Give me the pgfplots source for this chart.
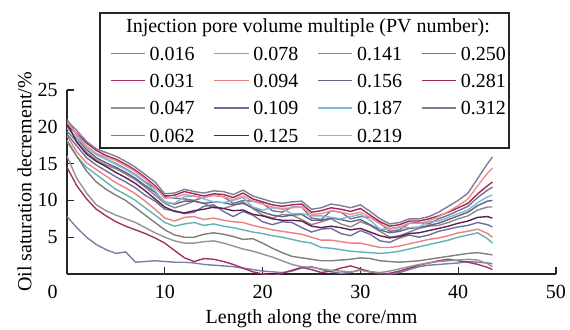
\documentclass[border=0pt]{standalone}
\usepackage{fontspec}
\setmainfont{Liberation Serif}
\usepackage{pgfplots}
\usepackage{pgfplotstable}
\pgfplotsset{compat=1.18}
\definecolor{cA}{HTML}{7C7CA8}
\definecolor{cB}{HTML}{A8306A}
\definecolor{cC}{HTML}{939393}
\definecolor{cD}{HTML}{7E7E7E}
\definecolor{cE}{HTML}{5FB3B8}
\definecolor{cF}{HTML}{EE8080}
\definecolor{cG}{HTML}{6E6E9E}
\definecolor{cH}{HTML}{5E1E4E}
\definecolor{cI}{HTML}{888888}
\definecolor{cJ}{HTML}{6E5E80}
\definecolor{cK}{HTML}{78BDE0}
\definecolor{cL}{HTML}{F09090}
\definecolor{cM}{HTML}{7E6E90}
\definecolor{cN}{HTML}{9E2858}
\definecolor{cO}{HTML}{7E7E98}
\pgfplotstableread{
x c1 c2 c3 c4 c5 c6 c7 c8 c9 c10 c11 c12 c13 c14 c15
0 7.8 14.5 16.0 18.0 18.2 18.8 19.0 20.5 19.4 20.0 19.8 20.6 21.0 20.2 20.8
1 6.3 12.0 13.0 16.0 16.0 16.6 17.4 17.9 18.0 18.4 18.5 19.0 18.9 19.1 19.5
2 5.0 10.2 11.0 14.0 14.5 15.1 15.8 16.3 16.5 16.9 17.2 17.4 17.3 17.8 18.0
3 4.0 8.8 9.4 12.5 13.5 14.2 14.8 15.3 15.5 15.8 16.2 16.4 16.3 16.8 17.0
4 3.3 7.9 8.6 11.5 12.5 13.3 14.0 14.6 14.8 15.1 15.6 15.9 15.6 16.1 16.5
5 2.8 7.1 8.0 10.7 11.5 12.4 13.2 13.8 14.3 14.5 14.9 15.4 15.0 15.6 16.0
6 3.0 6.5 7.5 10.0 10.8 11.7 12.5 13.1 13.6 13.8 14.2 14.7 14.3 14.9 15.3
7 1.6 6.0 7.0 9.0 10.0 10.9 11.7 12.3 12.8 13.0 13.4 13.9 13.5 14.1 14.5
8 1.7 5.5 6.3 8.0 9.0 9.9 10.7 11.3 11.8 12.0 12.4 12.9 12.5 13.1 13.5
9 1.8 4.9 5.6 7.0 8.0 8.8 9.9 10.2 10.7 11.1 11.3 11.8 11.7 12.0 12.5
10 1.7 4.2 5.0 6.0 7.0 7.6 8.8 9.1 9.6 9.8 9.7 10.3 10.5 10.6 10.9
11 1.6 3.2 4.5 5.3 6.5 7.2 8.6 8.5 9.0 9.5 9.6 10.4 10.3 10.7 11.0
12 1.6 2.2 4.2 5.0 6.8 7.7 8.2 8.3 9.4 9.9 10.5 10.8 10.2 11.2 11.5
13 1.5 1.7 4.2 5.0 7.0 7.8 8.4 8.6 9.9 9.9 10.6 10.6 10.0 10.9 11.2
14 1.3 2.1 4.4 5.4 6.6 7.4 9.2 8.8 9.6 9.6 10.2 10.4 10.4 10.6 11.0
15 1.2 2.0 4.5 5.6 6.8 7.6 9.4 9.1 9.0 9.8 9.8 10.7 10.7 10.9 11.3
16 1.1 1.7 4.2 5.4 6.5 7.3 8.5 8.9 8.9 9.7 9.7 10.5 10.5 10.8 11.2
17 1.0 1.3 3.8 5.1 6.3 7.1 7.8 8.6 9.3 9.4 10.0 10.1 9.6 10.4 10.8
18 0.8 0.8 3.4 4.7 6.0 7.0 8.5 8.7 9.8 9.6 10.4 10.6 10.0 11.0 11.4
19 0.6 0.3 3.1 4.8 5.7 6.6 8.0 8.1 8.9 9.0 9.1 9.9 9.9 10.2 10.6
20 0.4 0.0 2.7 4.2 5.5 6.3 7.1 7.9 8.0 8.4 8.7 9.5 9.6 9.8 10.2
21 0.3 -0.2 2.3 3.5 5.2 6.0 6.7 7.5 7.6 8.0 9.0 9.1 8.6 9.4 9.8
22 0.2 0.1 1.8 2.9 5.0 5.8 7.1 7.3 8.1 7.8 8.8 8.9 8.4 9.2 9.6
23 0.4 0.5 1.3 2.4 4.7 5.6 7.0 7.3 8.0 8.0 8.2 9.0 9.1 9.4 9.8
24 0.8 0.9 1.0 2.2 4.4 5.4 6.3 7.2 7.4 8.1 8.2 9.1 9.1 9.5 9.9
25 1.0 0.6 0.9 2.0 4.2 5.0 5.7 6.5 6.7 7.3 7.9 8.1 7.6 8.4 8.8
26 0.6 0.2 0.7 1.8 3.6 4.6 6.1 6.3 7.1 7.3 7.9 8.2 7.4 8.6 9.0
27 0.3 0.4 0.5 1.8 3.5 4.6 6.2 6.5 7.5 7.6 7.7 8.6 8.6 9.0 9.5
28 0.1 0.8 0.4 1.9 3.3 4.4 5.5 6.3 6.8 7.4 7.5 8.4 8.4 8.8 9.3
29 0.2 1.1 0.3 2.0 3.1 4.2 5.2 6.0 6.4 7.1 7.8 8.1 7.5 8.5 9.0
30 0.6 0.7 0.5 2.2 3.0 4.2 5.9 6.2 7.1 7.4 8.1 8.4 7.8 8.9 9.4
31 0.3 0.3 0.3 2.1 2.9 3.9 5.4 5.7 6.6 6.7 7.3 7.7 7.7 8.0 8.5
32 0.1 0.0 0.2 1.8 2.8 3.6 4.5 5.2 5.8 6.0 6.1 6.8 6.9 7.1 7.5
33 0.0 0.1 0.4 1.7 2.9 3.6 4.3 4.9 5.0 5.6 6.1 6.2 5.8 6.5 6.8
34 0.2 0.4 0.7 1.6 3.1 3.8 4.9 5.1 5.2 5.8 6.3 6.4 6.0 6.7 7.0
35 0.6 0.8 1.0 1.7 3.4 4.1 5.3 5.5 5.7 6.2 6.3 6.9 6.9 7.2 7.5
36 1.0 1.2 1.3 1.8 3.7 4.4 5.0 5.6 6.2 6.3 6.4 6.9 7.0 7.2 7.5
37 1.2 1.5 1.5 2.0 4.0 4.7 5.3 5.9 6.5 6.6 7.1 7.2 6.8 7.5 7.8
38 1.3 1.8 1.7 2.2 4.3 4.9 5.8 6.2 6.6 6.9 7.2 7.8 7.5 7.9 8.4
39 1.4 2.0 1.8 2.4 4.6 5.2 6.1 6.5 7.0 7.4 7.7 8.5 8.0 8.4 9.2
40 1.5 1.8 1.9 2.6 5.0 5.6 6.4 6.9 7.5 7.9 8.2 9.3 8.6 9.0 10.0
41 1.7 1.6 2.0 2.8 5.3 5.8 6.6 7.2 7.9 8.4 8.7 10.2 9.2 9.6 11.0
42 1.6 1.3 1.9 2.9 5.6 6.1 7.0 7.7 8.7 9.3 9.7 12.0 10.4 10.9 13.0
43 1.5 0.9 1.4 2.7 4.8 5.5 6.7 7.8 9.1 9.9 10.5 13.7 11.4 12.0 15.0
43.5 1.4 0.6 1.0 2.6 4.2 5.0 6.4 7.6 9.1 10.0 10.7 14.4 11.8 12.5 15.9
}\data
\begin{document}
\begin{tikzpicture}[font=\fontsize{10}{12}\selectfont]
\begin{axis}[
  scale only axis, width=244.5pt, height=92pt,
  xmin=0, xmax=50, ymin=0, ymax=25,
  axis x line*=bottom, axis y line*=left,
  x axis line style={-}, y axis line style={-},
  axis line style={line width=0.6pt, black!85},
  xtick={10,20,30,40,50}, ytick={5,10,15,20,25},
  tick align=inside, major tick length=3.5pt,
  tick style={line width=0.6pt, black!85},
  /pgf/number format/assume math mode=true,
  xticklabel style={inner sep=0pt, yshift=-5.5pt},
  yticklabel style={inner sep=0pt, xshift=-4.5pt},
  xlabel={Length along the core/mm},
  ylabel={Oil saturation decrement/\%},
  xlabel style={at={(axis description cs:0.5,-0.2663)}, anchor=base, inner sep=0pt},
  ylabel style={at={(axis description cs:-0.0716,0.5)}, anchor=south, inner sep=0pt},
  legend columns=4,
  legend cell align=left,
  legend style={draw=none, fill=none, inner sep=0pt, outer sep=0pt,
    at={(0.0879,1.237)}, anchor=north west, row sep=6.9pt, column sep=2pt,
    nodes={inner sep=0pt, text height=6.8pt, text depth=0pt},
    /tikz/every even column/.append style={column sep=9.6pt},
    font=\fontsize{10}{12}\selectfont},
  every axis plot/.append style={line width=0.7pt},
]
\addplot[cA] table[x=x,y=c1] {\data}; \addlegendentry{0.016}
\addplot[cE] table[x=x,y=c5] {\data}; \addlegendentry{0.078}
\addplot[cI] table[x=x,y=c9] {\data}; \addlegendentry{0.141}
\addplot[cM] table[x=x,y=c13] {\data}; \addlegendentry{0.250}
\addplot[cB] table[x=x,y=c2] {\data}; \addlegendentry{0.031}
\addplot[cF] table[x=x,y=c6] {\data}; \addlegendentry{0.094}
\addplot[cJ] table[x=x,y=c10] {\data}; \addlegendentry{0.156}
\addplot[cN] table[x=x,y=c14] {\data}; \addlegendentry{0.281}
\addplot[cC] table[x=x,y=c3] {\data}; \addlegendentry{0.047}
\addplot[cG] table[x=x,y=c7] {\data}; \addlegendentry{0.109}
\addplot[cK] table[x=x,y=c11] {\data}; \addlegendentry{0.187}
\addplot[cO] table[x=x,y=c15] {\data}; \addlegendentry{0.312}
\addplot[cD] table[x=x,y=c4] {\data}; \addlegendentry{0.062}
\addplot[cH] table[x=x,y=c8] {\data}; \addlegendentry{0.125}
\addplot[cL] table[x=x,y=c12] {\data}; \addlegendentry{0.219}
\end{axis}
\draw[line width=0.6pt, black!85] (16.5pt,63pt) rectangle (221pt,130.5pt);
\node[inner sep=0pt] at (120.5pt,123pt) {Injection pore volume multiple (PV number):};
\node[anchor=north east, inner sep=0pt] at (-4.5pt,-5.5pt) {0};
\pgfresetboundingbox
\path (-33.5pt,-27.5pt) rectangle (251.5pt,137pt);
\end{tikzpicture}
\end{document}
